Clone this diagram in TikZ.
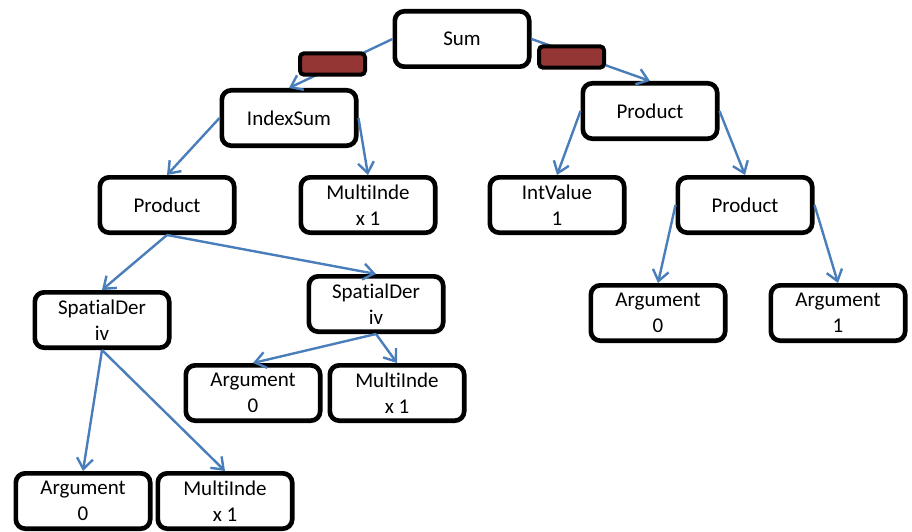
\documentclass[tikz,border=0pt]{standalone}
\usepackage{fontspec}
\setmainfont{Carlito}[Ligatures={NoCommon}]
\usetikzlibrary{arrows.meta}
\definecolor{edgeblue}{HTML}{4A7EBB}
\definecolor{markred}{HTML}{943634}
\begin{document}
\begin{tikzpicture}[x=0.75pt,y=-0.75pt,
  treenode/.style={draw=black, line width=3.5pt, fill=white, rounded corners=7pt,
    minimum width=100.75pt, minimum height=41.5pt, align=center, inner sep=0pt,
    font=\fontsize{15.75}{19.5}\selectfont},
  link/.style={draw=edgeblue, line width=1.8pt,
    -{Straight Barb[length=8pt,width=12pt]}},
  marker/.style={draw=black, line width=3pt, fill=markred, rounded corners=3pt,
    minimum width=48.75pt, minimum height=16pt, inner sep=0pt}]
\useasboundingbox (0,0) rectangle (912,531);

% expression tree nodes
\node[treenode] (sum)    at (462,39)  {Sum};
\node[treenode] (idx)    at (289,118) {IndexSum};
\node[treenode] (prodR)  at (650,111) {Product};
\node[treenode] (prodL)  at (167,205) {Product};
\node[treenode] (miTop)  at (368,205) {MultiInde\\x 1};
\node[treenode] (intv)   at (557,205) {IntValue\\1};
\node[treenode] (prodR2) at (745,205) {Product};
\node[treenode] (argR0)  at (658,313) {Argument\\0};
\node[treenode] (argR1)  at (838,313) {Argument\\1};
\node[treenode] (sdL)    at (102,320) {SpatialDer\\iv};
\node[treenode] (sdR)    at (376,304) {SpatialDer\\iv};
\node[treenode] (argM)   at (253,393) {Argument\\0};
\node[treenode] (miM)    at (397,393) {MultiInde\\x 1};
\node[treenode] (argB)   at (83,501)  {Argument\\0};
\node[treenode] (miB)    at (225,501) {MultiInde\\x 1};

% parent-to-child links
\draw[link] (sum.west)    -- (idx.north);
\draw[link] (sum.east)    -- (prodR.north);
\draw[link] (idx.west)    -- (prodL.north);
\draw[link] (idx.east)    -- (miTop.north);
\draw[link] (prodR.west)  -- (intv.north);
\draw[link] (prodR.east)  -- (prodR2.north);
\draw[link] (prodL.south) -- (sdL.north);
\draw[link] (prodL.south) -- (sdR.north);
\draw[link] (sdL.south)   -- (argB.north);
\draw[link] (sdL.south)   -- (miB.north);
\draw[link] (sdR.south)   -- (argM.north);
\draw[link] (sdR.south)   -- (miM.north);
\draw[link] (prodR2.west) -- (argR0.north);
\draw[link] (prodR2.east) -- (argR1.north);

% markers on the two top links
\node[marker] (redL) at (332.5,64) {};
\node[marker] (redR) at (571.5,57) {};
\end{tikzpicture}
\end{document}
